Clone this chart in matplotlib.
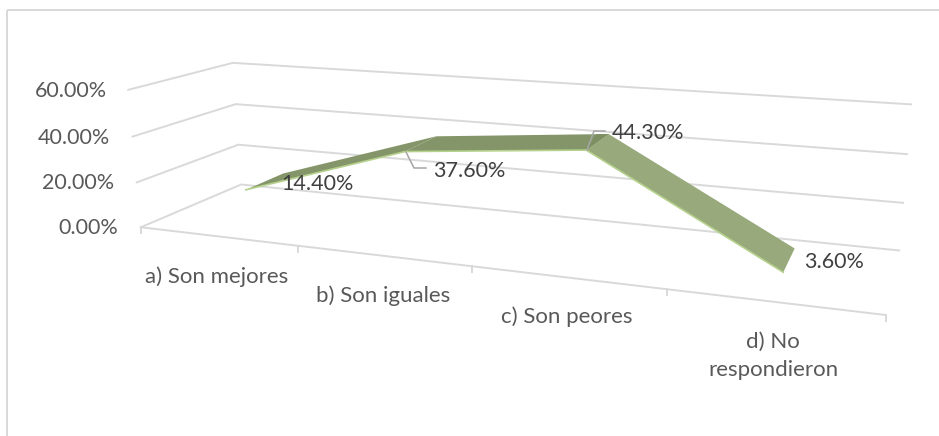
import matplotlib
matplotlib.use("Agg")
import matplotlib.pyplot as plt
import numpy as np
from matplotlib.patches import Polygon, Rectangle

plt.rcParams["font.family"] = ["Lato", "DejaVu Sans"]

categories = ["a) Son mejores", "b) Son iguales", "c) Son peores", "d) No\nrespondieron"]
values = [14.4, 37.6, 44.3, 3.6]
y_ticks = [0, 20, 40, 60]

Y_MAX = 60.0
W, H = 939, 436

# calibration of the fake 3D box: (u along categories, v height, w depth) -> pixels
box_uvw = np.array([
    [0, 0, 0], [0.25, 0, 0], [0.75, 0, 0], [1, 0, 0],
    [0, 0, 1], [1, 0, 1],
    [0, 1, 0], [0, 1, 1], [1, 1, 1],
    [0, 1 / 3, 1], [0, 2 / 3, 1], [1, 1 / 3, 1], [1, 2 / 3, 1],
], dtype=float)
box_px = np.array([
    [141, 227], [298, 246], [667, 290], [886, 314],
    [241, 184], [899, 251],
    [128, 90], [233, 63], [911, 104],
    [238, 145], [236, 104], [903, 203], [907, 154],
], dtype=float)


def fit_camera(uvw, px):
    rows, rhs = [], []
    for (u, v, w), (x, y) in zip(uvw, px):
        rows.append([u, v, w, 1, 0, 0, 0, 0, -x * u, -x * v, -x * w])
        rows.append([0, 0, 0, 0, u, v, w, 1, -y * u, -y * v, -y * w])
        rhs += [x, y]
    sol = np.linalg.lstsq(np.array(rows), np.array(rhs), rcond=None)[0]
    return np.append(sol, 1).reshape(3, 4)


CAM = fit_camera(box_uvw, box_px)


def project(u, val, w):
    p = CAM @ np.array([u, val / Y_MAX, w, 1.0])
    return p[:2] / p[2]


fig = plt.figure(figsize=(W / 100, H / 100), dpi=100)
ax = fig.add_axes([0, 0, 1, 1])
ax.set_xlim(0, W)
ax.set_ylim(H, 0)
ax.axis("off")

GRID = "#d9d9d9"
ax.add_patch(Rectangle((7, 10), 1000, 1000, fill=False, ec=GRID, lw=1.4))

# walls, floor and ticks
for t in y_ticks:
    pts = np.array([project(0, t, 0), project(0, t, 1), project(1, t, 1)])
    ax.plot(pts[:, 0], pts[:, 1], color=GRID, lw=1.4, zorder=1)
front = np.array([project(0, 0, 0), project(1, 0, 0)])
ax.plot(front[:, 0], front[:, 1], color=GRID, lw=1.4, zorder=1)
for i in range(len(categories) + 1):
    x, y = project(i / len(categories), 0, 0)
    ax.plot([x, x], [y, y + 6], color=GRID, lw=1.4, zorder=1)

# ribbon
W0, W1 = 0.3, 0.7
seg_colors = ["#849669", "#849669", "#98aa7b"]
n = len(values)
us = [(i + 0.5) / n for i in range(n)]
for i in range(n - 1):
    quad = [project(us[i], values[i], W0), project(us[i + 1], values[i + 1], W0),
            project(us[i + 1], values[i + 1], W1), project(us[i], values[i], W1)]
    ax.add_patch(Polygon(quad, closed=True, fc=seg_colors[i], ec="none", zorder=2))

# darker fold where the ribbon turns at the third point
back_prev = project(us[1], values[1], W1)
back_peak = project(us[2], values[2], W1)
wedge = [project(us[2], values[2], W0), back_peak, back_peak + 0.07 * (back_prev - back_peak)]
ax.add_patch(Polygon(wedge, closed=True, fc="#7c8e62", ec="none", zorder=2))

edge = np.array([project(u, v, W0) for u, v in zip(us, values)])
ax.plot(edge[:, 0], edge[:, 1], color="#b5d18d", lw=1.2, zorder=3, solid_joinstyle="miter")

# leader lines
LEADER = "#a6a6a6"
ax.plot([406, 414, 426], [152, 168, 168], color=LEADER, lw=1.1, zorder=4)
ax.plot([587, 594, 605], [150, 131, 131], color=LEADER, lw=1.1, zorder=4)

# text
for t, x, y in zip(y_ticks, [118, 114, 110, 107], [228, 183, 138, 91]):
    ax.text(x, y, f"{t:.2f}%", ha="right", va="center", fontsize=15.5, color="#595959")
for c, x, y in zip(categories, [217, 383, 566.5, 773], [277, 296, 317, 356]):
    ax.text(x, y, c, ha="center", va="center", fontsize=16, color="#595959", linespacing=1.55)
for v, x, y in zip(values, [281, 433, 612, 804], [184, 171, 133, 262]):
    ax.text(x, y, f"{v:.2f}%", ha="left", va="center", fontsize=15.5, color="#404040", zorder=5)

fig.savefig("out.png", dpi=100)
